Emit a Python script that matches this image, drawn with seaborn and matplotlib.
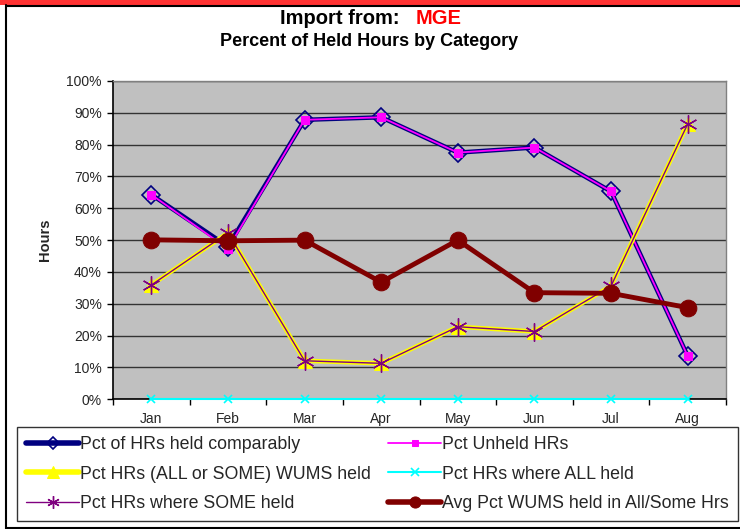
import matplotlib
matplotlib.use("Agg")
import matplotlib.pyplot as plt
import seaborn as sns
import pandas as pd
from matplotlib.patches import Rectangle
from matplotlib.lines import Line2D

months = ["Jan", "Feb", "Mar", "Apr", "May", "Jun", "Jul", "Aug"]
held_comparably = [64.3, 48.0, 87.8, 88.6, 77.5, 79.1, 65.3, 13.6]
unheld = [64.3, 47.3, 87.8, 88.6, 77.5, 79.1, 65.3, 13.6]
all_or_some = [35.9, 52.3, 12.1, 11.3, 22.8, 21.3, 35.6, 86.5]
all_held = [0, 0, 0, 0, 0, 0, 0, 0]
some_held = [35.9, 52.3, 12.1, 11.3, 22.8, 21.3, 35.6, 86.5]
avg_wums = [50.1, 49.8, 50.0, 36.8, 50.0, 33.5, 33.3, 28.8]
yticks = [0, 10, 20, 30, 40, 50, 60, 70, 80, 90, 100]
ytick_labels = [f"{v}%" for v in yticks]

labels = ["Pct of HRs held comparably", "Pct Unheld HRs",
          "Pct HRs (ALL or SOME) WUMS held", "Pct HRs where ALL held",
          "Pct HRs where SOME held", "Avg Pct WUMS held in All/Some Hrs"]

sns.set_theme(style="white")
plt.rcParams["font.family"] = ["Liberation Sans", "DejaVu Sans"]

fig = plt.figure(figsize=(7.4, 5.29), dpi=100)
W, H = 740, 529
ax = fig.add_axes([113 / W, 1 - 399.3 / H, (726 - 113) / W, (399.3 - 81) / H])
ax.set_facecolor("#C0C0C0")

df = pd.DataFrame({"month": months})
common = dict(ax=ax, sort=False, errorbar=None)

sns.lineplot(x=df["month"], y=held_comparably, color="#000080", linewidth=3.2,
             marker="D", markersize=9, markerfacecolor="none",
             markeredgecolor="#000080", markeredgewidth=1.2,
             label=labels[0], zorder=3, **common)
sns.lineplot(x=df["month"], y=unheld, color="#FF00FF", linewidth=1.3,
             marker="s", markersize=6, markerfacecolor="#FF00FF",
             markeredgecolor="#FF00FF", label=labels[1], zorder=4, **common)
sns.lineplot(x=df["month"], y=all_or_some, color="#FFFF00", linewidth=3.2,
             marker="^", markersize=10, markerfacecolor="#FFFF00",
             markeredgecolor="#FFFF00", label=labels[2], zorder=5, **common)
sns.lineplot(x=df["month"], y=all_held, color="#00FFFF", linewidth=1.5,
             marker="x", markersize=6, markeredgewidth=1.2,
             markeredgecolor="#00FFFF", label=labels[3], zorder=6,
             clip_on=False, **common)
sns.lineplot(x=df["month"], y=some_held, color="#800080", linewidth=1.0,
             marker=(6, 2, 0), markersize=13, markeredgewidth=1.0,
             markeredgecolor="#800080", label=labels[4], zorder=7, **common)
sns.lineplot(x=df["month"], y=avg_wums, color="#800000", linewidth=3.5,
             marker="o", markersize=12, markerfacecolor="#800000",
             markeredgecolor="#800000", label=labels[5], zorder=8, **common)

ax.set_xlim(-0.5, 7.5)
ax.set_ylim(0, 100)
ax.set_yticks(yticks)
ax.set_yticklabels(ytick_labels, fontsize=10)
ax.set_xticks(range(len(months)))
ax.set_xticklabels(months, fontsize=10)
ax.set_xticks([i + 0.5 for i in range(-1, 8)], minor=True)
ax.tick_params(axis="x", which="major", length=0, pad=9)
ax.tick_params(axis="x", which="minor", length=4, width=1, color="black", direction="out", bottom=True)
ax.tick_params(axis="y", which="major", length=4, width=1, color="black", direction="out", left=True, pad=4)
ax.yaxis.grid(True, color="#333333", linewidth=1.0)
ax.xaxis.grid(False)
ax.set_axisbelow(True)
ax.set_xlabel("")
ax.set_ylabel("Hours", fontsize=10.5, fontweight="bold", labelpad=10)
for s in ["left", "bottom"]:
    ax.spines[s].set_color("black")
    ax.spines[s].set_linewidth(1.2)
for s in ["top", "right"]:
    ax.spines[s].set_color("#808080")
    ax.spines[s].set_linewidth(1.0)
for s in ax.spines.values():
    s.set_visible(True)

# Legend: 2 columns, 3 rows
handles, lbls = ax.get_legend_handles_labels()
hmap = dict(zip(lbls, handles))
order = [labels[0], labels[2], labels[4], labels[1], labels[3], labels[5]]
if ax.get_legend() is not None:
    ax.get_legend().remove()
leg = fig.legend([hmap[l] for l in order], order, loc="upper left",
                 bbox_to_anchor=(17 / W, 4 / H, 721 / W, 98 / H),
                 mode="expand", ncol=2, fontsize=12.8, frameon=True,
                 fancybox=False, edgecolor="black", handlelength=3.0,
                 handletextpad=0.05, labelspacing=0.72, borderpad=0.5,
                 borderaxespad=0, columnspacing=1.0)
leg.get_frame().set_linewidth(1.0)
legend_marker_sizes = [6, 9, 9, 5, 6, 8]
for h, ms in zip(leg.legend_handles, legend_marker_sizes):
    h.set_markersize(ms)
leg.legend_handles[0].set_linewidth(4)
leg.legend_handles[1].set_linewidth(4)
leg.legend_handles[5].set_linewidth(4)

# Titles
fig.text(0.5405, 1 - 19 / H, "Import from:", ha="right", va="center",
         fontsize=14.5, fontweight="bold", color="black")
fig.text(0.5615, 1 - 19 / H, "MGE", ha="left", va="center",
         fontsize=14.5, fontweight="bold", color="#FF0000")
fig.text(369 / W, 1 - 41 / H, "Percent of Held Hours by Category", ha="center",
         va="center", fontsize=13, fontweight="bold", color="black")

# Window frame
fig.patches.append(Rectangle((0, 1 - 5 / H), 1, 5 / H, transform=fig.transFigure,
                             facecolor="#FF3333", edgecolor="none", zorder=0))
fig.lines.append(Line2D([5.5 / W, 5.5 / W], [0, 1 - 5 / H], transform=fig.transFigure,
                        color="black", linewidth=1.5))
fig.lines.append(Line2D([5.5 / W, 1], [1 - 6 / H, 1 - 6 / H], transform=fig.transFigure,
                        color="black", linewidth=1.5))
fig.lines.append(Line2D([5.5 / W, 1], [1.5 / H, 1.5 / H], transform=fig.transFigure,
                        color="black", linewidth=1.5))

fig.savefig("out.png", dpi=100, facecolor="white")
